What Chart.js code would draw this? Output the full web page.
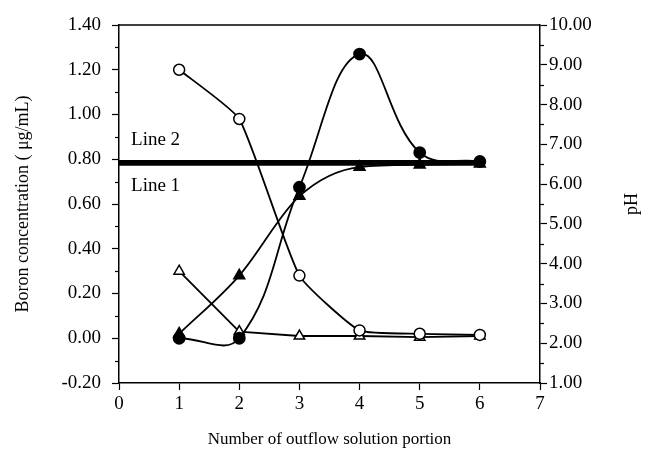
<!DOCTYPE html>
<html><head><meta charset="utf-8">
<script src="https://cdn.jsdelivr.net/npm/chart.js@4.4.0/dist/chart.umd.min.js"></script>
<style>html,body{margin:0;padding:0;background:#fff;}canvas{display:block;}</style>
</head><body>
<canvas id="c" width="661" height="454"></canvas>
<script>
const portions = [1, 2, 3, 4, 5, 6];
const openCircles = [1.20, 0.98, 0.28, 0.035, 0.02, 0.015];
const filledCircles = [0.00, 0.00, 0.675, 1.27, 0.83, 0.79];
const filledTriangles = [0.02, 0.28, 0.635, 0.765, 0.775, 0.78];
const openTriangles = [0.30, 0.03, 0.01, 0.01, 0.005, 0.01];
const refX = [0, 6];
const line1Y = [0.778, 0.778];
const line2Y = [0.790, 0.790];
const lineLabels = [{text: 'Line 2', x: 0.2, y: 0.885}, {text: 'Line 1', x: 0.2, y: 0.68}];
const leftTicks = {min: -0.2, max: 1.4, step: 0.2};
const rightTicks = {min: 1, max: 10, step: 1};
const xTicks = {min: 0, max: 7, step: 1};

const FONT = "'Liberation Serif', 'Times New Roman', serif";
const pts = (xs, ys) => xs.map((x, i) => ({x, y: ys[i]}));
const fmt = v => (Math.round(v * 100) / 100 + 0).toFixed(2);

const extras = {
  id: 'extras',
  afterDraw(chart) {
    const ctx = chart.ctx, a = chart.chartArea;
    const y = chart.scales.y, y1 = chart.scales.y1, x = chart.scales.x;
    ctx.save();
    ctx.strokeStyle = '#000'; ctx.lineWidth = 1.5;
    ctx.beginPath(); ctx.moveTo(a.left, a.top); ctx.lineTo(a.right, a.top); ctx.stroke();
    ctx.lineWidth = 1.2;
    for (let v = leftTicks.min + leftTicks.step / 2; v < leftTicks.max; v += leftTicks.step) {
      const p = Math.round(y.getPixelForValue(v)) + 0.5;
      ctx.beginPath(); ctx.moveTo(a.left - 4, p); ctx.lineTo(a.left, p); ctx.stroke();
    }
    for (let v = rightTicks.min + rightTicks.step / 2; v < rightTicks.max; v += rightTicks.step) {
      const p = Math.round(y1.getPixelForValue(v)) + 0.5;
      ctx.beginPath(); ctx.moveTo(a.right, p); ctx.lineTo(a.right + 4, p); ctx.stroke();
    }
    ctx.fillStyle = '#000';
    ctx.font = '19px ' + FONT;
    ctx.textBaseline = 'middle'; ctx.textAlign = 'left';
    lineLabels.forEach(l => ctx.fillText(l.text, x.getPixelForValue(l.x), y.getPixelForValue(l.y)));
    ctx.font = '18px ' + FONT;
    ctx.translate(632, (a.top + a.bottom) / 2);
    ctx.rotate(-Math.PI / 2);
    ctx.textAlign = 'center';
    ctx.fillText('pH', 0, 0);
    ctx.restore();
  }
};

new Chart(document.getElementById('c'), {
  type: 'line',
  data: {
    datasets: [
      {label: 'Line 2', data: pts(refX, line2Y), borderColor: '#000', borderWidth: 3, pointRadius: 0, tension: 0},
      {label: 'Line 1', data: pts(refX, line1Y), borderColor: '#000', borderWidth: 3, pointRadius: 0, tension: 0},
      {label: 'open circles', data: pts(portions, openCircles), borderColor: '#000', borderWidth: 1.8,
        pointStyle: 'circle', pointRadius: 5.5, pointBackgroundColor: '#fff', pointBorderColor: '#000', pointBorderWidth: 1.5,
        tension: 0.15},
      {label: 'filled circles', data: pts(portions, filledCircles), borderColor: '#000', borderWidth: 1.8,
        pointStyle: 'circle', pointRadius: 5.5, pointBackgroundColor: '#000', pointBorderColor: '#000', tension: 0.4},
      {label: 'filled triangles', data: pts(portions, filledTriangles), borderColor: '#000', borderWidth: 1.8,
        pointStyle: 'triangle', pointRadius: 6, pointBackgroundColor: '#000', pointBorderColor: '#000', cubicInterpolationMode: 'monotone'},
      {label: 'open triangles', data: pts(portions, openTriangles), borderColor: '#000', borderWidth: 1.8,
        pointStyle: 'triangle', pointRadius: 6, pointBackgroundColor: '#fff', pointBorderColor: '#000', pointBorderWidth: 1.5, tension: 0}
    ]
  },
  options: {
    responsive: false, animation: false,
    layout: {padding: {top: 25, left: 0, right: 0, bottom: 0}},
    plugins: {legend: {display: false}, tooltip: {enabled: false}},
    scales: {
      x: {type: 'linear', min: xTicks.min, max: xTicks.max,
        afterFit: s => { s.height = 71; },
        ticks: {stepSize: xTicks.step, color: '#000', font: {family: FONT, size: 19}, padding: 3, maxRotation: 0},
        grid: {drawOnChartArea: false, drawTicks: true, tickLength: 7, color: '#000', tickWidth: 1.2},
        border: {color: '#000', width: 1.5},
        title: {display: true, text: 'Number of outflow solution portion', color: '#000', font: {family: FONT, size: 17}, padding: {top: 0, bottom: 4}}
      },
      y: {position: 'left', min: leftTicks.min, max: leftTicks.max,
        afterFit: s => { s.width = 119; },
        ticks: {stepSize: leftTicks.step, color: '#000', font: {family: FONT, size: 19}, padding: 11, callback: fmt},
        grid: {drawOnChartArea: false, drawTicks: true, tickLength: 7, color: '#000', tickWidth: 1.2},
        border: {color: '#000', width: 1.5},
        title: {display: true, text: 'Boron concentration ( μg/mL)', color: '#000', font: {family: FONT, size: 18}, padding: {top: 12, bottom: 0}}
      },
      y1: {position: 'right', min: rightTicks.min, max: rightTicks.max,
        afterFit: s => { s.width = 121; },
        ticks: {stepSize: rightTicks.step, color: '#000', font: {family: FONT, size: 19}, padding: 2, callback: fmt},
        grid: {drawOnChartArea: false, drawTicks: true, tickLength: 7, color: '#000', tickWidth: 1.2},
        border: {color: '#000', width: 1.5}
      }
    }
  },
  plugins: [extras]
});
</script>
</body></html>
